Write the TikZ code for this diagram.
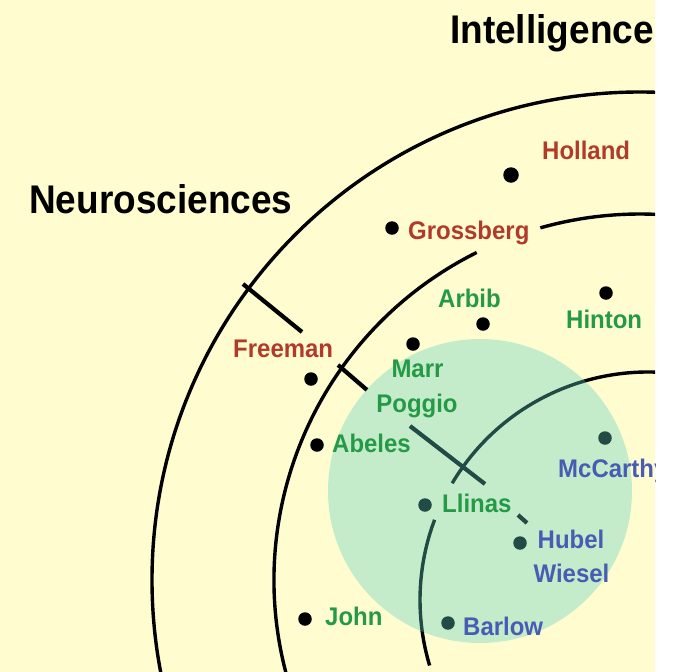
\documentclass[tikz,border=0pt]{standalone}
\usepackage{fontspec}
\setmainfont{Liberation Sans}
\newfontfamily\lblfont[FakeStretch=0.94]{Liberation Sans}
\newfontfamily\ttlfont[FakeStretch=0.925]{Liberation Sans}
\definecolor{bg}{RGB}{255,253,208}
\definecolor{mint}{RGB}{97,208,194}
\definecolor{lred}{RGB}{178,58,42}
\definecolor{lgreen}{RGB}{36,154,70}
\definecolor{lblue}{RGB}{72,92,180}
\begin{document}
\begin{tikzpicture}[x=1pt,y=-1pt,
  dot/.style={circle,fill=black,inner sep=0pt,minimum size=13.5pt},
  arcline/.style={line width=3.4pt,draw=black},
  tickline/.style={line width=4.2pt,draw=black},
  lbl/.style={font=\lblfont\fontsize{25.5}{27}\selectfont\bfseries,inner sep=0pt,anchor=base west},
  ttl/.style={font=\ttlfont\fontsize{40}{42}\selectfont\bfseries,inner sep=0pt,text=black,anchor=base west}]
\useasboundingbox (0,0) rectangle (672,672);
\fill[white] (0,0) rectangle (672,672);
\fill[bg] (0,0) rectangle (655,672);
\begin{scope}
\clip (0,0) rectangle (655,672);
% centres of the rings
\coordinate (co) at (640,580);
\coordinate (ci) at (648,600);
% outer ring
\draw[arcline] (co) circle[radius=488];
% middle ring (broken at Grossberg)
\draw[arcline] ([shift={(-105.8:366)}]co) arc[start angle=-105.8,end angle=-70,radius=366];
\draw[arcline] ([shift={(-116.5:366)}]co) arc[start angle=-116.5,end angle=-200,radius=366];
% inner ring (broken at Llinas)
\draw[arcline] ([shift={(-149.2:228)}]ci) arc[start angle=-149.2,end angle=-80,radius=228];
\draw[arcline] ([shift={(-159.4:228)}]ci) arc[start angle=-159.4,end angle=-196.7,radius=228];
% ticks
\coordinate (t1a) at (243,284);
\coordinate (t1b) at (302,332);
\coordinate (t2a) at (338,365);
\coordinate (t2b) at (367,390);
\coordinate (t3a) at (410,426);
\coordinate (t3b) at (485,484);
\coordinate (t4a) at (518,515);
\coordinate (t4b) at (527,523);
\draw[tickline] (t1a) -- (t1b);
\draw[tickline] (t2a) -- (t2b);
\draw[tickline] (t3a) -- (t3b);
\draw[tickline] (t4a) -- (t4b);
% dots
\node[dot,minimum size=15.5pt] (dHolland) at (511,175) {};
\node[dot] (dGrossberg) at (392,228) {};
\node[dot] (dArbib) at (483,324) {};
\node[dot] (dHinton) at (606,293) {};
\node[dot] (dFreeman) at (311,379) {};
\node[dot] (dMarr) at (413,344) {};
\node[dot] (dAbeles) at (317,445) {};
\node[dot] (dMcCarthy) at (605,438) {};
\node[dot] (dLlinas) at (425,505) {};
\node[dot] (dHubel) at (520,543) {};
\node[dot] (dJohn) at (305,619) {};
\node[dot] (dBarlow) at (448,623) {};
% translucent disc
\fill[mint,fill opacity=0.36] (480,491) circle[radius=152];
% labels
\node[lbl,text=lred] (lHolland) at (542,159) {Holland};
\node[lbl,text=lred] (lGrossberg) at (408,239) {Grossberg};
\node[lbl,text=lgreen] (lArbib) at (438,307) {Arbib};
\node[lbl,text=lgreen] (lHinton) at (566,328) {Hinton};
\node[lbl,text=lred] (lFreeman) at (233,357) {Freeman};
\node[lbl,text=lgreen,anchor=base] (lMarr) at (417.5,377) {Marr};
\node[lbl,text=lgreen,anchor=base] (lPoggio) at (417,412) {Poggio};
\node[lbl,text=lgreen] (lAbeles) at (332,452) {Abeles};
\node[lbl,text=lblue] (lMcCarthy) at (558,477) {McCarthy};
\node[lbl,text=lgreen] (lLlinas) at (442,512) {Llinas};
\node[lbl,text=lblue,anchor=base] (lHubel) at (571,548) {Hubel};
\node[lbl,text=lblue,anchor=base] (lWiesel) at (571.5,582) {Wiesel};
\node[lbl,text=lgreen] (lJohn) at (325,625) {John};
\node[lbl,text=lblue] (lBarlow) at (463,635) {Barlow};
\node[ttl] (tNeuro) at (29,213) {Neurosciences};
\node[ttl] (tIntel) at (450,43) {Intelligence};
\end{scope}
\end{tikzpicture}
\end{document}
